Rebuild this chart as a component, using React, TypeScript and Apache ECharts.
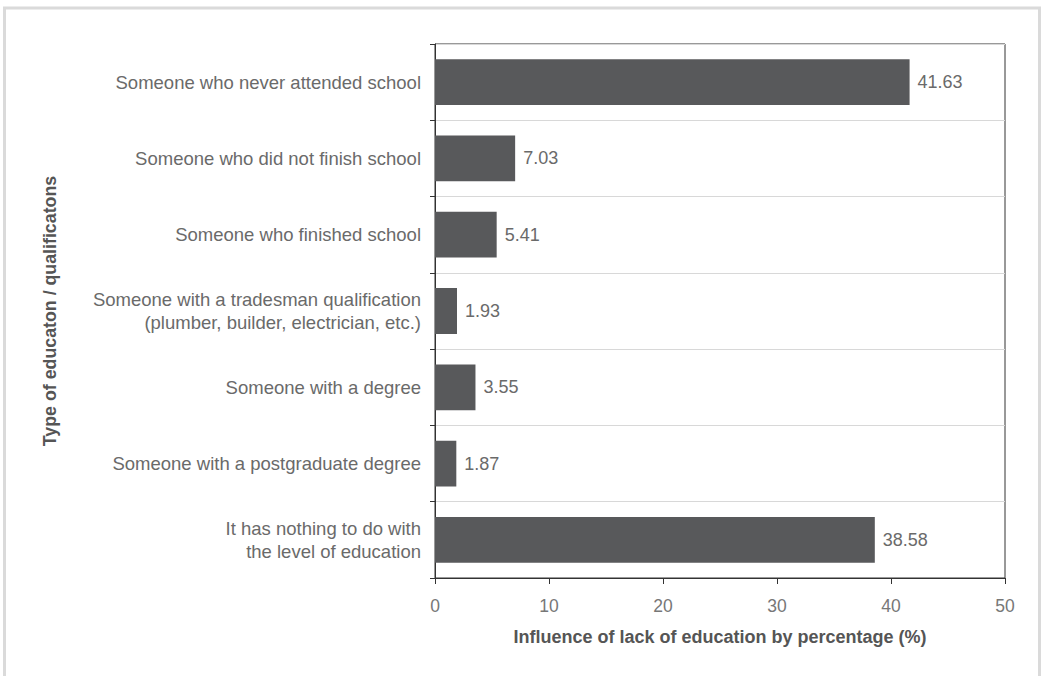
import React, { useEffect, useRef } from "react";
import * as echarts from "echarts";

const categories = [
  "Someone who never attended school",
  "Someone who did not finish school",
  "Someone who finished school",
  "Someone with a tradesman qualification\n(plumber, builder, electrician, etc.)",
  "Someone with a degree",
  "Someone with a postgraduate degree",
  "It has nothing to do with\nthe level of education",
];
const values = [41.63, 7.03, 5.41, 1.93, 3.55, 1.87, 38.58];
const xTicks = { min: 0, max: 50, interval: 10 };
const xName = "Influence of lack of education by percentage (%)";
const yName = "Type of educaton / qualificatons";

const FONT = "'Liberation Sans', Arial, Helvetica, sans-serif";

export default function App() {
  const ref = useRef<HTMLDivElement>(null);
  useEffect(() => {
    if (!ref.current) return;
    const chart = echarts.init(ref.current, undefined, { renderer: "svg" });
    chart.setOption({
      animation: false,
      backgroundColor: "#ffffff",
      textStyle: { fontFamily: FONT },
      graphic: [
        {
          type: "rect",
          shape: { x: 4.5, y: 8, width: 1035, height: 720 },
          style: { fill: "none", stroke: "#dadada", lineWidth: 3 },
          silent: true,
        },
      ],
      grid: {
        left: 435,
        right: 37,
        top: 44,
        bottom: 98,
        show: true,
        borderColor: "#333",
        borderWidth: 1,
        backgroundColor: "transparent",
      },
      xAxis: {
        type: "value",
        min: xTicks.min,
        max: xTicks.max,
        interval: xTicks.interval,
        name: xName,
        nameLocation: "middle",
        nameGap: 50,
        nameTextStyle: { fontSize: 18, fontWeight: "bold", color: "#555", fontFamily: FONT },
        axisLine: { show: true, lineStyle: { color: "#333", width: 1 } },
        axisTick: { show: true, length: 6, lineStyle: { color: "#333" } },
        axisLabel: { color: "#777", fontSize: 17.5, margin: 19, fontFamily: FONT },
        splitLine: { show: false },
      },
      yAxis: {
        type: "category",
        data: categories,
        inverse: true,
        name: yName,
        nameLocation: "middle",
        nameGap: 376,
        nameRotate: 90,
        nameTextStyle: { fontSize: 17.8, fontWeight: "bold", color: "#555", fontFamily: FONT },
        axisLine: { show: true, lineStyle: { color: "#333", width: 1 } },
        axisTick: { show: true, length: 5, interval: 0, alignWithLabel: false, lineStyle: { color: "#333" } },
        axisLabel: { color: "#6a6a6a", fontSize: 18.5, margin: 14, lineHeight: 23.5, interval: 0, fontFamily: FONT },
        splitLine: { show: true, interval: 0, lineStyle: { color: "#d8d8d8", width: 1 } },
      },
      series: [
        {
          type: "bar",
          data: values,
          barCategoryGap: "40%",
          itemStyle: { color: "#58595b" },
          label: {
            show: true,
            position: "right",
            distance: 8,
            color: "#6a6a6a",
            fontSize: 18,
            fontFamily: FONT,
          },
        },
      ],
    });
    return () => chart.dispose();
  }, []);
  return (
    <div
      ref={ref}
      style={{ position: "absolute", left: 0, top: 0, width: 1042, height: 676 }}
    />
  );
}
